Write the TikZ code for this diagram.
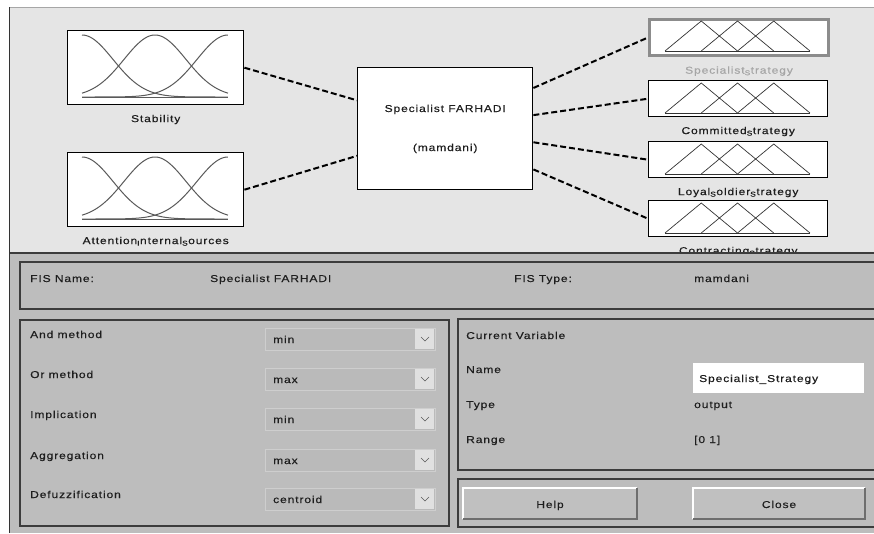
\documentclass[tikz,border=0pt]{standalone}
\usepackage{fontspec}
\setmainfont{Liberation Sans}[FakeStretch=1.2,LetterSpace=9,FakeBold=0.4]
\usepackage{xcolor}
\usetikzlibrary{positioning,calc}

\definecolor{topbg}{HTML}{E5E5E5}
\definecolor{panelbg}{HTML}{BDBDBD}
\definecolor{edge}{HTML}{3C3C3C}
\definecolor{mfgray}{HTML}{5A5A5A}
\definecolor{selgray}{HTML}{8C8C8C}
\definecolor{menubg}{HTML}{BABABA}
\definecolor{menuedge}{HTML}{CECECE}
\definecolor{arrowbg}{HTML}{E0E0E0}
\definecolor{btnbg}{HTML}{C0C0C0}
\definecolor{btnshade}{HTML}{6E6E6E}
\definecolor{guitext}{HTML}{1E1E1E}

\tikzset{
  mfbox/.style={draw=black, line width=1.4pt, fill=white, inner sep=0pt, anchor=north west},
  inbox/.style={mfbox, minimum width=176pt, minimum height=74pt},
  outbox/.style={mfbox, minimum width=179pt, minimum height=36pt},
  lbl/.style={font=\fontsize{10}{12}\selectfont, text=guitext, inner sep=0pt,
    text height=7.5pt, text depth=2.5pt},
  field/.style={lbl, anchor=base west},
  link/.style={line width=2pt, dash pattern=on 6pt off 3pt},
  panel/.style={draw=edge, line width=1.2pt},
  mfline/.style={draw=mfgray, line width=1pt},
}

\begin{document}
\begin{tikzpicture}[x=1pt, y=-1pt]
  \useasboundingbox (0,0) rectangle (874,533);
  \clip (0,0) rectangle (874,533);

  % Window frame and upper area
  \fill[topbg] (9,7) rectangle (874,253);
  \draw[gray!70] (9,7) -- (874,7);
  \draw[black!80, line width=1.5pt] (9.5,7) -- (9.5,533);

  % Inputs, system block and outputs
  \node[inbox] (stab) at (67,30) {};
  \node[inbox] (attn) at (67,152) {};
  \node[mfbox, minimum width=175pt, minimum height=122pt] (fis) at (357,67) {};
  \node[outbox, draw=selgray, line width=3pt] (out1) at (648,18) {};
  \node[outbox] (out2) at (648,80) {};
  \node[outbox] (out3) at (648,141) {};
  \node[outbox] (out4) at (648,200) {};

  \node[lbl, below=9pt of stab] (stablbl) {Stability};
  \node[lbl, below=9pt of attn] (attnlbl) {Attention\textsubscript{I}nternal\textsubscript{S}ources};
  \node[lbl, anchor=base] (fisname) at ($(fis.north)+(0,45)$) {Specialist FARHADI};
  \node[lbl, anchor=base] (fistype) at ($(fis.north)+(0,84)$) {(mamdani)};
  \node[lbl, text=gray!70, below=9pt of out1] (out1lbl) {Specialist\textsubscript{S}trategy};
  \node[lbl, below=9pt of out2] (out2lbl) {Committed\textsubscript{S}trategy};
  \node[lbl, below=9pt of out3] (out3lbl) {Loyal\textsubscript{S}oldier\textsubscript{S}trategy};
  \node[lbl, below=9pt of out4] (out4lbl) {Contracting\textsubscript{S}trategy};

  % Gaussian membership functions
  \foreach \v in {stab,attn} {
    \begin{scope}[shift={(\v.north west)}]
      \foreach \c in {0,0.5,1}
        \draw[mfline] plot[domain=0:1, samples=61, smooth]
          ({15+146*\x}, {67-62*exp(-((\x-\c)^2)/0.0901)});
      \draw[mfline] (15,67) -- (161,67);
    \end{scope}
  }

  % Triangular membership functions
  \foreach \o in {out1,out2,out3,out4} {
    \begin{scope}[shift={(\o.north west)}]
      \foreach \k in {0,1,2}
        \draw[mfline, draw=black!80, line width=0.7pt] ({17+36.25*\k},33) -- ({17+36.25*(\k+1)},3) -- ({17+36.25*(\k+2)},33);
      \draw[mfline, draw=black!80, line width=0.7pt] (17,33) -- (162,33);
    \end{scope}
  }

  % Dashed connections
  \draw[link] (stab.east) -- ($(fis.north west)!0.27!(fis.south west)$);
  \draw[link] (attn.east) -- ($(fis.north west)!0.72!(fis.south west)$);
  \foreach \o/\f in {out1/0.17, out2/0.39, out3/0.61, out4/0.83}
    \draw[link] ($(fis.north east)!\f!(fis.south east)$) -- (\o.west);

  % Lower form area
  \fill[panelbg] (10,253) rectangle (874,533);
  \draw[edge, line width=2pt] (10,253) -- (874,253);
  \draw[panel] (20,262) rectangle (880,309);
  \draw[panel] (20,320) rectangle (449,526);
  \draw[panel] (458,319) rectangle (880,470);
  \draw[panel] (458,479) rectangle (880,527);

  \node[field] (fisnamelbl) at (30,282) {FIS Name:};
  \node[field] (fisnameval) at (210,282) {Specialist FARHADI};
  \node[field] (fistypelbl) at (514,282) {FIS Type:};
  \node[field] (fistypeval) at (694,282) {mamdani};

  % Method rows with pop-up menus
  \foreach \r/\lab/\val [count=\i] in {328/And method/min, 368/Or method/max,
      408/Implication/min, 449/Aggregation/max, 488/Defuzzification/centroid} {
    \node[field] (meth\i) at (30,{\r+10}) {\lab};
    \draw[menuedge, fill=menubg] (265,\r) rectangle (435,{\r+22});
    \fill[arrowbg] (415,{\r+1}) rectangle (434,{\r+21});
    \draw[mfgray, line width=0.6pt] (421,{\r+9}) -- (425,{\r+13}) -- (429,{\r+9});
    \node[field] (val\i) at (273,{\r+15}) {\val};
  }

  % Current variable
  \node[field] (curvar) at (466,339) {Current Variable};
  \node[field] (namelbl) at (466,373) {Name};
  \fill[white] (693,363) rectangle (864,393);
  \node[field] (nameval) at (699,382) {Specialist\_Strategy};
  \node[field] (typelbl) at (466,408) {Type};
  \node[field] (typeval) at (694,408) {output};
  \node[field] (rangelbl) at (466,443) {Range};
  \node[field] (rangeval) at (694,443) {[0 1]};

  % Buttons
  \foreach \xa/\xb/\txt in {463/637/Help, 693/865/Close} {
    \fill[btnbg] (\xa,488) rectangle (\xb,519);
    \draw[white, line width=1.2pt] (\xa,519) -- (\xa,488) -- (\xb,488);
    \draw[btnshade, line width=1.5pt] (\xa,519) -- (\xb,519) -- (\xb,488);
    \node[lbl, anchor=base] (btn\txt) at ({(\xa+\xb)/2},508) {\txt};
  }
\end{tikzpicture}
\end{document}
